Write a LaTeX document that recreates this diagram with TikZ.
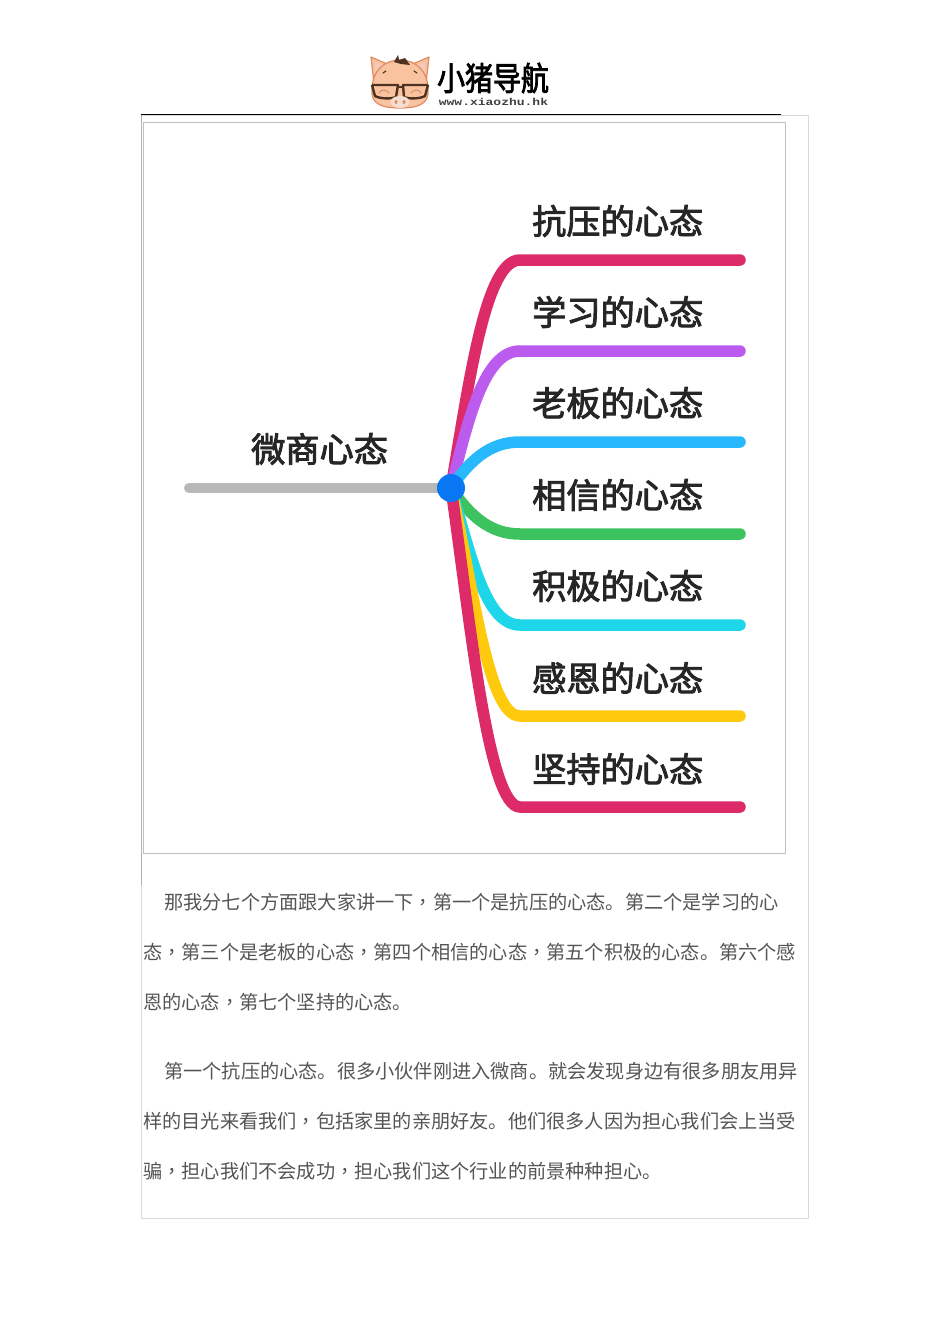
\documentclass[tikz,border=0pt]{standalone}
\usepackage{fontspec}
\setmainfont{Noto Sans CJK SC}
\newfontfamily\cjktc{Noto Sans CJK TC}
\newfontfamily\cjkmed[FakeBold=2.6]{Noto Sans CJK SC}
\newfontfamily\logomono{Liberation Mono}
\newcommand{\zc}{{\cjktc ，}}
\definecolor{pinkA}{HTML}{DC2B68}
\definecolor{purpleB}{HTML}{BC5CEE}
\definecolor{skyC}{HTML}{27B9FB}
\definecolor{greenD}{HTML}{3CC35F}
\definecolor{cyanE}{HTML}{1ED6EA}
\definecolor{yellowF}{HTML}{FFC90E}
\definecolor{hubblue}{HTML}{0A78F5}
\definecolor{framegray}{HTML}{D9D9D9}
\definecolor{bodygray}{HTML}{555555}
\definecolor{skin}{HTML}{F8C39E}
\definecolor{skindark}{HTML}{E08A66}
\definecolor{glassbrown}{HTML}{4E3220}
\tikzset{
  branch/.style={line width=11.5pt,line cap=round},
  lab/.style={font=\cjkmed\fontsize{34.2}{36}\selectfont,text=black!85,inner sep=0pt,anchor=west},
  para/.style={font=\fontsize{19.2}{20}\selectfont,text=bodygray,inner sep=0pt,anchor=west},
  frameline/.style={draw=framegray,line width=0.8pt},
}
\begin{document}
\begin{tikzpicture}[x=1pt,y=-1pt]
\useasboundingbox (0,0) rectangle (950,1344);
\fill[white] (0,0) rectangle (950,1344);
% page frames
\coordinate (ftl) at (141.5,115);
\coordinate (ftr) at (808.5,115);
\coordinate (fbr) at (808.5,1218.5);
\coordinate (fbl) at (141.5,1218.5);
\coordinate (fmid) at (141.5,885);
\draw[frameline] (fmid) -- (fbl) -- (fbr) -- (ftr) -- (ftl);
\draw[draw=black!30,line width=0.8pt] (ftl) -- (fmid);
\draw[frameline,draw=black!25] (143.5,122.5) rectangle (785.5,853.5);
\coordinate (rs) at (141,114.5);
\coordinate (re) at (781,114.5);
\draw[black,line width=1pt] (rs) -- (re);
% logo
\begin{scope}
\draw[skindark,fill=skin,line width=1.2pt,line join=round] (374,84) -- (371,57) -- (394,67) -- cycle;
\draw[skindark,fill=skin,line width=1.2pt,line join=round] (426,84) -- (429,57) -- (406,67) -- cycle;
\fill[white!55!skindark] (376,78) -- (374.5,62) -- (387,67) -- cycle;
\fill[white!55!skindark] (424,78) -- (425.5,62) -- (413,67) -- cycle;
\draw[skindark,fill=skin,line width=1.2pt] (372,90) .. controls (372,70) and (385,60) .. (400,60) .. controls (415,60) and (428,70) .. (428,90) .. controls (429,103) and (420,108) .. (400,108) .. controls (380,108) and (371,103) .. (372,90) -- cycle;
\fill[glassbrown] (394,62) -- (398,55) -- (399,60) -- (405,58) -- (410,65) -- (401,64) -- cycle;
\draw[glassbrown!80!black,line width=1pt,line cap=round] (383,73) -- (386,71);
\draw[glassbrown!80!black,line width=1pt,line cap=round] (414,71) -- (417,73);
\draw[glassbrown,line width=2.4pt,line join=round] (372,85) -- (398,85) -- (396,97) .. controls (392,99) and (380,99) .. (375,96) -- (372,85);
\draw[glassbrown,line width=2.4pt,line join=round] (428,85) -- (403,85) -- (404,97) .. controls (408,99) and (420,99) .. (425,96) -- (428,85);
\draw[glassbrown,line width=2.4pt] (398,87) -- (403,87);
\draw[skindark,line width=1pt] (379,93) .. controls (381,89) and (386,89) .. (389,93);
\draw[skindark,line width=1pt] (411,93) .. controls (414,89) and (419,89) .. (421,93);
\fill[white!70!skindark] (400,102) ellipse (9.5pt and 6pt);
\fill[skindark] (396,102) ellipse (1.5pt and 2pt);
\fill[skindark] (404,102) ellipse (1.5pt and 2pt);
\end{scope}
\node[inner sep=0pt,anchor=center,xscale=0.86,font=\cjkmed\fontsize{32.5}{34}\selectfont,text=black] (logotext) at (493,78) {小猪导航};
\node[inner sep=0pt,anchor=center,xscale=1.3,font=\logomono\fontsize{10}{10}\selectfont\bfseries,text=black!75] (logourl) at (493.5,102) {www.xiaozhu.hk};
% mind map
\coordinate (root) at (189,488);
\node[circle,inner sep=0pt,minimum size=28pt] (hub) at (451,488) {};
\coordinate (e1) at (740,260);
\coordinate (e2) at (740,351);
\coordinate (e3) at (740,442);
\coordinate (e4) at (740,534);
\coordinate (e5) at (740,625);
\coordinate (e6) at (740,716);
\coordinate (e7) at (740,807);
\draw[line width=10pt,line cap=round,draw=black!28] (root) -- (hub.center);
\draw[branch,pinkA]    (hub.center) .. controls (470,375) and (486,260) .. (520,260) -- (e1);
\draw[branch,purpleB]  (hub.center) .. controls (468,420) and (484,351) .. (520,351) -- (e2);
\draw[branch,skyC]     (hub.center) .. controls (470,460) and (490,442) .. (520,442) -- (e3);
\draw[branch,greenD]   (hub.center) .. controls (470,516) and (490,534) .. (520,534) -- (e4);
\draw[branch,cyanE]    (hub.center) .. controls (472,560) and (486,625) .. (520,625) -- (e5);
\draw[branch,yellowF]  (hub.center) .. controls (474,590) and (488,716) .. (520,716) -- (e6);
\draw[branch,pinkA]    (hub.center) .. controls (470,620) and (488,807) .. (520,807) -- (e7);
\fill[hubblue] (hub.center) circle (14pt);
\node[lab] (l0) at (251,449) {微商心态};
\node[lab] (l1) at (532,221) {抗压的心态};
\node[lab] (l2) at (532,312) {学习的心态};
\node[lab] (l3) at (532,403) {老板的心态};
\node[lab] (l4) at (532,495) {相信的心态};
\node[lab] (l5) at (532,586) {积极的心态};
\node[lab] (l6) at (532,678) {感恩的心态};
\node[lab] (l7) at (532,769) {坚持的心态};
% body text
\node[para] (t1) at (164,902) {那我分七个方面跟大家讲一下\zc 第一个是抗压的心态。第二个是学习的心};
\node[para] (t2) at (143,952) {态\zc 第三个是老板的心态\zc 第四个相信的心态\zc 第五个积极的心态。第六个感};
\node[para] (t3) at (143,1002) {恩的心态\zc 第七个坚持的心态。};
\node[para] (t4) at (164,1071) {第一个抗压的心态。很多小伙伴刚进入微商。就会发现身边有很多朋友用异};
\node[para] (t5) at (143,1121) {样的目光来看我们\zc 包括家里的亲朋好友。他们很多人因为担心我们会上当受};
\node[para] (t6) at (143,1171) {骗\zc 担心我们不会成功\zc 担心我们这个行业的前景种种担心。};
\end{tikzpicture}
\end{document}
